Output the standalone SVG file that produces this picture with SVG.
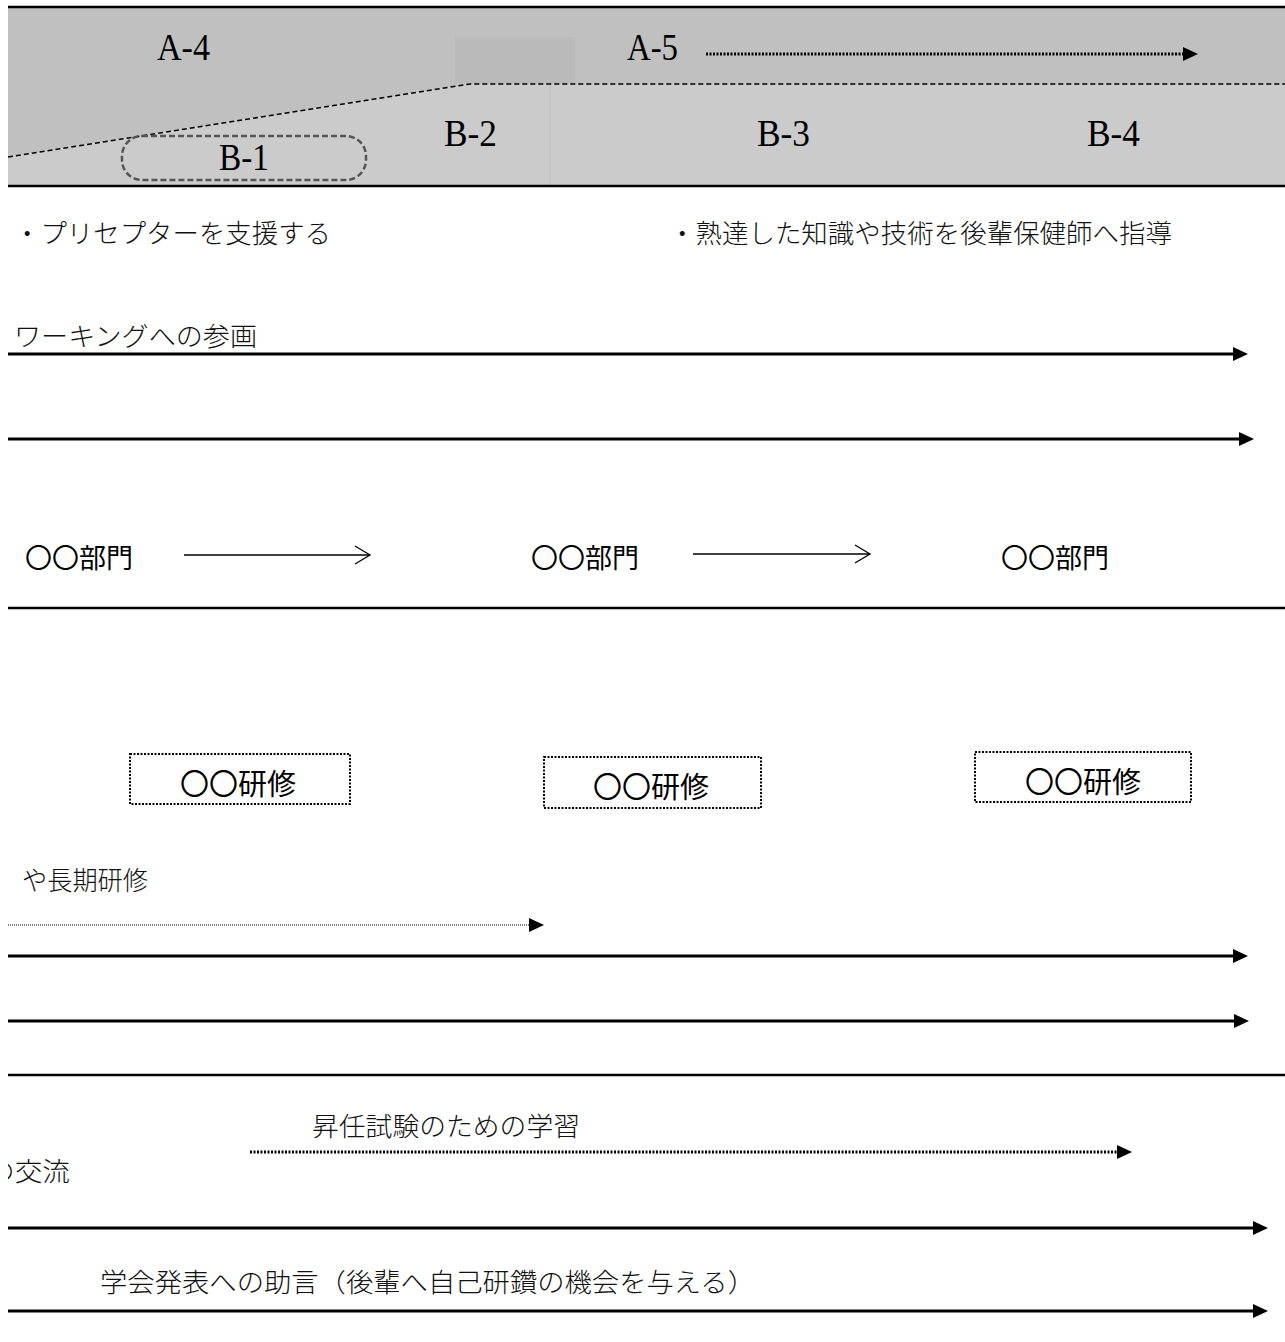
<svg xmlns="http://www.w3.org/2000/svg" width="1285" height="1342" viewBox="0 0 1285 1342">
<style>
.hdr{font-family:"Liberation Serif","Noto Sans CJK JP",serif;font-size:37px;fill:#000}
.min{font-family:"Noto Sans CJK JP",sans-serif;font-weight:300;font-size:26px;fill:#111}
.got{font-family:"Noto Sans CJK JP",sans-serif;font-size:27px;fill:#000}
.gotb{font-family:"Noto Sans CJK JP",sans-serif;font-size:29px;fill:#000}
.rule{stroke:#000;stroke-width:2.5;fill:none}
.arr{stroke:#000;stroke-width:3;fill:none;marker-end:url(#head)}
.dot{stroke:#000;stroke-width:3;stroke-dasharray:2 1.5;fill:none;marker-end:url(#head)}
.dotthin{stroke:#000;stroke-width:1.2;stroke-dasharray:1 1;fill:none;marker-end:url(#head)}
.thin{stroke:#000;stroke-width:1.5;fill:none;marker-end:url(#open)}
.box{fill:#fff;stroke:#000;stroke-width:2;stroke-dasharray:2 1.5}
</style>
<defs>
<marker id="head" markerUnits="userSpaceOnUse" markerWidth="16" markerHeight="16" refX="0" refY="7" orient="auto">
<path d="M0,0 L15,7 L0,14 z" fill="#000"/>
</marker>
<marker id="open" markerUnits="userSpaceOnUse" markerWidth="20" markerHeight="22" refX="16" refY="10" orient="auto">
<path d="M1,1 L16,10 L1,19" fill="none" stroke="#000" stroke-width="1.3"/>
</marker>
<clipPath id="pageclip"><rect x="8" y="0" width="1277" height="1342"/></clipPath>
</defs>
<rect width="1285" height="1342" fill="#fff"/>

<g id="header">
<polygon points="8,7 1285,7 1285,84 470,84 8,157" fill="#c0c0c0"/>
<polygon points="8,157 470,84 1285,84 1285,186 8,186" fill="#cbcbcb"/>
<rect x="455" y="37" width="120" height="46" fill="#bababa"/>
<line x1="550" y1="85" x2="550" y2="186" stroke="#bdbdbd" stroke-width="1"/>
<polyline points="8,157 470,84 1285,84" fill="none" stroke="#000" stroke-width="1.5" stroke-dasharray="5 3"/>
<line x1="8" y1="7" x2="1285" y2="7" class="rule"/>
<line x1="8" y1="186" x2="1285" y2="186" class="rule"/>
</g>

<g id="A-4"><text class="hdr" x="157" y="60" textLength="53" lengthAdjust="spacingAndGlyphs">A-4</text></g>
<g id="A-5"><text class="hdr" x="627" y="60" textLength="51" lengthAdjust="spacingAndGlyphs">A-5</text></g>
<g id="B-1">
<rect x="122" y="136" width="244" height="44" rx="20" fill="none" stroke="#555" stroke-width="2.5" stroke-dasharray="6 3"/>
<text class="hdr" x="219" y="170" textLength="50" lengthAdjust="spacingAndGlyphs">B-1</text>
</g>
<g id="B-2"><text class="hdr" x="444" y="146" textLength="53" lengthAdjust="spacingAndGlyphs">B-2</text></g>
<g id="B-3"><text class="hdr" x="757" y="146" textLength="53" lengthAdjust="spacingAndGlyphs">B-3</text></g>
<g id="B-4"><text class="hdr" x="1087" y="146" textLength="53" lengthAdjust="spacingAndGlyphs">B-4</text></g>

<g id="note-preceptor"><text class="min" x="14" y="243" textLength="317" lengthAdjust="spacingAndGlyphs">・プリセプターを支援する</text></g>
<g id="note-guidance"><text class="min" x="669" y="243" textLength="503" lengthAdjust="spacingAndGlyphs">・熟達した知識や技術を後輩保健師へ指導</text></g>
<g id="working"><text class="min" x="14" y="346" textLength="243" lengthAdjust="spacingAndGlyphs">ワーキングへの参画</text></g>

<g id="dept-1"><text class="got" x="25" y="568" textLength="108" lengthAdjust="spacingAndGlyphs">〇〇部門</text></g>
<g id="dept-2"><text class="got" x="531" y="568" textLength="108" lengthAdjust="spacingAndGlyphs">〇〇部門</text></g>
<g id="dept-3"><text class="got" x="1001" y="568" textLength="108" lengthAdjust="spacingAndGlyphs">〇〇部門</text></g>

<g id="training-1">
<rect class="box" x="130" y="754" width="220" height="50"/>
<text class="gotb" x="180" y="795" textLength="116" lengthAdjust="spacingAndGlyphs">〇〇研修</text>
</g>
<g id="training-2">
<rect class="box" x="544" y="757" width="217" height="51"/>
<text class="gotb" x="593" y="798" textLength="116" lengthAdjust="spacingAndGlyphs">〇〇研修</text>
</g>
<g id="training-3">
<rect class="box" x="975" y="752" width="216" height="50"/>
<text class="gotb" x="1025" y="793" textLength="116" lengthAdjust="spacingAndGlyphs">〇〇研修</text>
</g>

<g id="long-training"><text class="min" x="22" y="890" textLength="126" lengthAdjust="spacingAndGlyphs">や長期研修</text></g>
<g id="exam-study"><text class="min" x="312" y="1136" textLength="268" lengthAdjust="spacingAndGlyphs">昇任試験のための学習</text></g>
<g id="exchange" clip-path="url(#pageclip)"><text class="min" x="-13" y="1181" textLength="83" lengthAdjust="spacingAndGlyphs">の交流</text></g>
<g id="conference"><text class="min" x="100" y="1292" textLength="655" lengthAdjust="spacingAndGlyphs">学会発表への助言（後輩へ自己研鑽の機会を与える）</text></g>

<g id="connectors">
<line class="dot" x1="706" y1="54" x2="1183" y2="54"/>
<line class="arr" x1="8" y1="354" x2="1233" y2="354"/>
<line class="arr" x1="8" y1="439" x2="1239" y2="439"/>
<line class="thin" x1="184" y1="555" x2="370" y2="555"/>
<line class="thin" x1="693" y1="554" x2="870" y2="554"/>
<line class="rule" x1="8" y1="608" x2="1285" y2="608"/>
<line class="dotthin" x1="8" y1="925" x2="529" y2="925"/>
<line class="arr" x1="8" y1="956" x2="1233" y2="956"/>
<line class="arr" x1="8" y1="1021" x2="1234" y2="1021"/>
<line class="rule" x1="8" y1="1075" x2="1285" y2="1075"/>
<line class="dot" x1="250" y1="1152" x2="1117" y2="1152"/>
<line class="arr" x1="8" y1="1228" x2="1253" y2="1228"/>
<line class="arr" x1="8" y1="1311" x2="1253" y2="1311"/>
</g>
</svg>
